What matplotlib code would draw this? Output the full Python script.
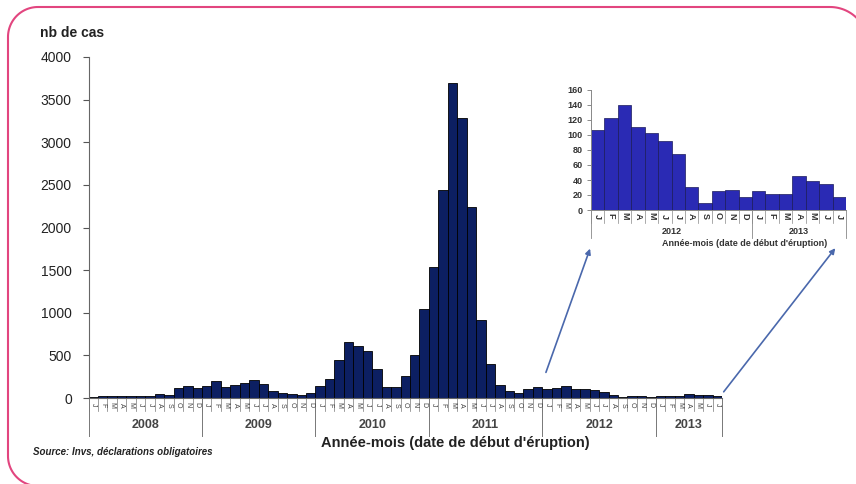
import matplotlib
matplotlib.use("Agg")
import matplotlib.pyplot as plt
from matplotlib.transforms import Affine2D, blended_transform_factory
from matplotlib.patches import FancyArrowPatch
from matplotlib.lines import Line2D
import numpy as np

plt.rcParams['font.family'] = ['Liberation Sans', 'DejaVu Sans']

# ---------------- data ----------------
years = ["2008", "2009", "2010", "2011", "2012", "2013"]
months_per_year = [12, 12, 12, 12, 12, 7]
month_letters = ["J", "F", "M", "A", "M", "J", "J", "A", "S", "O", "N", "D"]

cases_2008 = [8, 18, 20, 22, 20, 18, 22, 45, 35, 120, 140, 112]
cases_2009 = [140, 195, 130, 155, 180, 213, 160, 82, 60, 48, 32, 60]
cases_2010 = [135, 220, 450, 653, 610, 550, 340, 133, 130, 260, 505, 1045]
cases_2011 = [1540, 2440, 3700, 3280, 2240, 915, 399, 150, 82, 63, 102, 125]
cases_2012 = [106, 123, 140, 110, 103, 92, 75, 31, 10, 25, 27, 17]
cases_2013 = [25, 21, 22, 45, 38, 35, 18]

main_yticks = [0, 500, 1000, 1500, 2000, 2500, 3000, 3500, 4000]
inset_yticks = [0, 20, 40, 60, 80, 100, 120, 140, 160]
inset_years = ["2012", "2013"]
inset_months_per_year = [12, 7]

all_cases = cases_2008 + cases_2009 + cases_2010 + cases_2011 + cases_2012 + cases_2013
inset_cases = cases_2012 + cases_2013

W, H = 856, 484
fig = plt.figure(figsize=(W / 100, H / 100), dpi=100)
fig.patch.set_facecolor("white")

# pixel transform (y measured from top)
pix = Affine2D().scale(1, -1).translate(0, H).scale(1 / W, 1 / H) + fig.transFigure


def axrect(x0, y0, x1, y1):
    """pixel box (top-down y) -> figure rect"""
    return [x0 / W, 1 - y1 / H, (x1 - x0) / W, (y1 - y0) / H]


MAIN_COL = "#0C1F62"
INSET_COL = "#2A2AB4"
TXT = "#222222"

# ---------------- main axes ----------------
ax = fig.add_axes(axrect(88.5, 57, 722, 398))
n = len(all_cases)
x = np.arange(n)
ax.bar(x, all_cases, width=1.0, color=MAIN_COL, edgecolor="black", linewidth=0.6)
ax.set_xlim(-0.5, n - 0.5)
ax.set_ylim(0, 4000)
ax.set_yticks(main_yticks)
ax.set_yticklabels([str(v) for v in main_yticks], fontsize=10, color=TXT)
ax.tick_params(axis="y", length=4, width=0.8, colors="#555555", labelcolor=TXT, pad=8)
ax.set_xticks([])
for s in ["top", "right"]:
    ax.spines[s].set_visible(False)
ax.spines["left"].set_color("#666666")
ax.spines["bottom"].set_color("#666666")
ax.spines["left"].set_linewidth(0.8)
ax.spines["bottom"].set_linewidth(0.8)

trans = blended_transform_factory(ax.transData, pix)
idx = 0
for yr, nm in zip(years, months_per_year):
    start = idx
    for m in range(nm):
        ax.text(idx, 405, month_letters[m], transform=trans, rotation=270,
                ha="center", va="center", fontsize=5, color="#444444", clip_on=False)
        ax.add_line(Line2D([idx - 0.5, idx - 0.5], [398, 411], transform=trans,
                           color="#777777", lw=0.5, clip_on=False))
        idx += 1
    ax.add_line(Line2D([start - 0.5, start - 0.5], [398, 436], transform=trans,
                       color="#777777", lw=0.7, clip_on=False))
    ax.text((start + idx - 1) / 2, 425, yr, transform=trans, ha="center", va="center",
            fontsize=9, fontweight="bold", color="#444444", clip_on=False)
ax.add_line(Line2D([idx - 0.5, idx - 0.5], [398, 436], transform=trans,
                   color="#777777", lw=0.7, clip_on=False))

fig.text(40 / W, 1 - 33 / H, "nb de cas", fontsize=10, fontweight="bold",
         color=TXT, ha="left", va="center")
fig.text(455 / W, 1 - 443 / H, "Année-mois (date de début d'éruption)", fontsize=10.5,
         fontweight="bold", color=TXT, ha="center", va="center")
fig.text(33 / W, 1 - 452 / H, "Source: Invs, déclarations obligatoires", fontsize=7,
         fontweight="bold", fontstyle="italic", color=TXT, ha="left", va="center")

# ---------------- inset ----------------
ax2 = fig.add_axes(axrect(591, 90, 846, 210))
ni = len(inset_cases)
xi = np.arange(ni)
ax2.bar(xi, inset_cases, width=1.0, color=INSET_COL, edgecolor="#1a1a5a", linewidth=0.5)
ax2.set_xlim(-0.5, ni - 0.5)
ax2.set_ylim(0, 160)
ax2.set_yticks(inset_yticks)
ax2.set_yticklabels([str(v) for v in inset_yticks], fontsize=6.5, color="#333333",
                    fontweight="bold")
ax2.tick_params(axis="y", length=3, width=0.6, colors="#777777", labelcolor="#333333", pad=3)
ax2.set_xticks([])
for s in ["top", "right"]:
    ax2.spines[s].set_visible(False)
ax2.spines["left"].set_color("#888888")
ax2.spines["bottom"].set_color("#888888")
ax2.spines["left"].set_linewidth(0.7)
ax2.spines["bottom"].set_linewidth(0.7)

trans2 = blended_transform_factory(ax2.transData, pix)
idx = 0
for yr, nm in zip(inset_years, inset_months_per_year):
    start = idx
    for m in range(nm):
        ax2.text(idx, 216, month_letters[m], transform=trans2, rotation=270,
                 ha="center", va="center", fontsize=6.5, fontweight="bold",
                 color="#333333", clip_on=False)
        ax2.add_line(Line2D([idx - 0.5, idx - 0.5], [210, 223], transform=trans2,
                            color="#888888", lw=0.5, clip_on=False))
        idx += 1
    ax2.add_line(Line2D([start - 0.5, start - 0.5], [210, 238], transform=trans2,
                        color="#888888", lw=0.6, clip_on=False))
    ax2.text((start + idx - 1) / 2, 231, yr, transform=trans2, ha="center", va="center",
             fontsize=6.5, fontweight="bold", color="#333333", clip_on=False)
ax2.add_line(Line2D([idx - 0.5, idx - 0.5], [210, 238], transform=trans2,
                    color="#888888", lw=0.6, clip_on=False))
fig.text(745 / W, 1 - 243 / H, "Année-mois (date de début d'éruption)", fontsize=6.5,
         fontweight="bold", color="#333333", ha="center", va="center")

# ---------------- arrows ----------------
for (x0, y0), (x1, y1) in [((545, 375), (591, 246)), ((722, 394), (837, 246))]:
    fig.add_artist(FancyArrowPatch((x0, y0), (x1, y1), transform=pix,
                                   arrowstyle="-|>", mutation_scale=8,
                                   color="#4A68AC", lw=1.2))

# ---------------- pink frame (decorative, pixel coords) ----------------
def arc(cx, cy, r, a0, a1, k=30):
    t = np.radians(np.linspace(a0, a1, k))
    return cx + r * np.cos(t), cy - r * np.sin(t)

fx, fy = [], []
# bottom-left arc (from bottom going up)
ax_, ay_ = arc(38, 456, 30, 270, 180)
fx += list(ax_); fy += list(ay_)
# left edge up to top-left arc
ax_, ay_ = arc(38, 37, 30, 180, 90)
fx += list(ax_); fy += list(ay_)
# top edge to top-right arc
ax_, ay_ = arc(830, 45, 38, 90, 0)
fx += list(ax_); fy += list(ay_)
fig.add_artist(Line2D(fx, fy, transform=pix, color="#E2457F", lw=1.5))

fig.savefig("out.png", dpi=100, facecolor="white")
